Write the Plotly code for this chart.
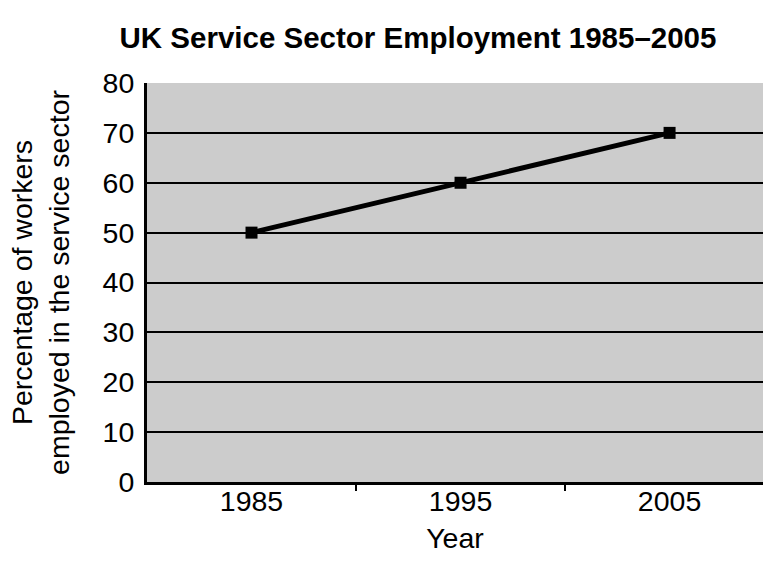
import plotly.graph_objects as go

years = ["1985", "1995", "2005"]
pct = [50, 60, 70]
yticks = [0, 10, 20, 30, 40, 50, 60, 70, 80]
boundaries = [0.5, 1.5]

xpos = list(range(len(years)))

fig = go.Figure()
fig.add_trace(go.Scatter(
    x=xpos, y=pct, mode="lines+markers",
    line=dict(color="black", width=5),
    marker=dict(symbol="square", size=12, color="black"),
    showlegend=False, cliponaxis=False,
))

font = "Liberation Sans, Arial, sans-serif"
W, H = 763, 561
fig.update_layout(
    width=W, height=H,
    margin=dict(l=147, r=0, t=83, b=79, autoexpand=False),
    paper_bgcolor="white", plot_bgcolor="#cccccc",
    font=dict(family=font, size=28.5, color="black"),
    title=dict(text="<b>UK Service Sector Employment 1985–2005</b>",
               x=418/W, xref="container", xanchor="center",
               y=1-38/H, yref="container", yanchor="middle",
               font=dict(size=29.5, family=font)),
    xaxis=dict(
        range=[-0.5, 2.447], tickvals=xpos, ticktext=years, ticks="",
        tickfont=dict(size=28.5, family=font), ticklabelstandoff=-8,
        showgrid=False, zeroline=False, automargin=False,
        showline=True, linecolor="black", linewidth=3,
        title=dict(text="Year", standoff=12, font=dict(size=28.5, family=font)),
    ),
    xaxis2=dict(
        overlaying="x", matches="x", side="bottom", anchor="y",
        tickvals=boundaries, ticktext=["", ""], ticks="outside", ticklen=8,
        tickwidth=2, tickcolor="black", showgrid=False, zeroline=False,
        showline=False, automargin=False,
    ),
    yaxis=dict(
        range=[0, 80], tickvals=yticks, ticks="",
        tickfont=dict(size=28.5, family=font), ticklabelstandoff=4,
        showgrid=True, gridcolor="black", gridwidth=2, automargin=False,
        zeroline=False, showline=True, linecolor="black", linewidth=3,
        title=dict(text="Percentage of workers<br>employed in the service sector",
                   standoff=25, font=dict(size=28.5, family=font)),
    ),
)
fig.add_trace(go.Scatter(x=boundaries, y=[None, None], xaxis="x2", yaxis="y",
                         showlegend=False, hoverinfo="skip"))

fig.write_html(
    "out.html",
    config={"displayModeBar": False},
    post_script="document.body.style.margin='0';document.body.style.overflow='hidden';",
)
